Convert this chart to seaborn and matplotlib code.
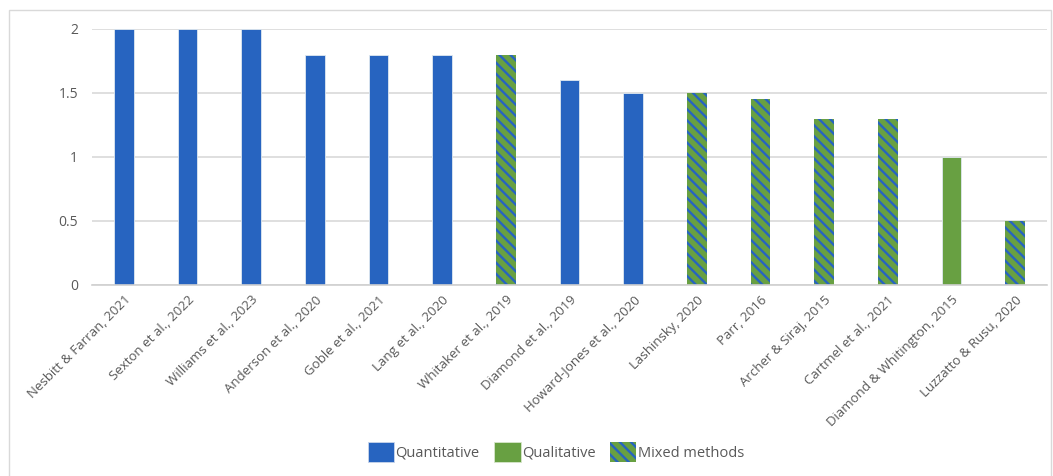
import matplotlib
matplotlib.use("Agg")
import matplotlib.pyplot as plt
import seaborn as sns
import pandas as pd
from matplotlib.patches import Patch, Rectangle

studies = ["Nesbitt & Farran, 2021", "Sexton et al., 2022", "Williams et al., 2023",
           "Anderson et al., 2020", "Goble et al., 2021", "Lang et al., 2020",
           "Whitaker et al., 2019", "Diamond et al., 2019", "Howard-Jones et al., 2020",
           "Lashinsky, 2020", "Parr, 2016", "Archer & Siraj, 2015", "Cartmel et al., 2021",
           "Diamond & Whitington, 2015", "Luzzatto & Rusu, 2020"]
scores = [2, 2, 2, 1.8, 1.8, 1.8, 1.8, 1.6, 1.5, 1.5, 1.45, 1.3, 1.3, 1.0, 0.5]
methods = ["Quantitative"] * 6 + ["Mixed methods", "Quantitative", "Quantitative",
           "Mixed methods", "Mixed methods", "Mixed methods", "Mixed methods",
           "Qualitative", "Mixed methods"]
method_order = ["Quantitative", "Qualitative", "Mixed methods"]
yticks = [0, 0.5, 1, 1.5, 2]
ytick_labels = ["0", "0.5", "1", "1.5", "2"]

BLUE = "#2764C0"
GREEN = "#68A042"
GREY = "#595959"
HATCH = "\\\\\\"

df = pd.DataFrame({"study": studies, "score": scores, "method": methods})

sns.set_style("white")
plt.rcParams["font.family"] = ["Open Sans", "DejaVu Sans"]
plt.rcParams["hatch.linewidth"] = 1.7

fig = plt.figure(figsize=(10.53, 4.76), dpi=100)
ax = fig.add_axes([92 / 1053, 1 - 285 / 476, (1047 - 92) / 1053, (285 - 29) / 476])

palette = {"Quantitative": BLUE, "Qualitative": GREEN, "Mixed methods": GREEN}
sns.barplot(data=df, x="study", y="score", hue="method", hue_order=method_order,
            palette=palette, dodge=False, width=0.31, order=studies, ax=ax,
            legend=False, saturation=1)

for container, m in zip(ax.containers, method_order):
    for bar in container:
        if bar.get_height() == 0 or pd.isna(bar.get_height()):
            continue
        if m == "Mixed methods":
            bar.set_hatch(HATCH)
            bar.set_edgecolor(BLUE)
            bar.set_linewidth(0)
        else:
            bar.set_edgecolor("#dfe8f0")
            bar.set_linewidth(0.6)

ax.set_ylim(0, 2)
ax.set_xlim(-0.5, len(studies) - 0.5)
ax.set_yticks(yticks)
ax.set_yticklabels(ytick_labels, color=GREY, fontsize=10)
ax.yaxis.grid(True, color="#d9d9d9", linewidth=1.2)
ax.set_axisbelow(True)
for s in ["top", "right", "left"]:
    ax.spines[s].set_visible(False)
ax.spines["bottom"].set_color("#d0d0d0")
ax.spines["bottom"].set_linewidth(1.2)
ax.tick_params(axis="y", length=0, pad=10)
ax.tick_params(axis="x", length=0, pad=6)
ax.set_xticks(range(len(studies)))
ax.set_xticklabels(studies, rotation=45, ha="right", rotation_mode="anchor",
                   color=GREY, fontsize=9.5)
ax.set_xlabel("")
ax.set_ylabel("")

handles = [
    Patch(facecolor=BLUE, edgecolor="#c9d6ea", linewidth=0.6, label="Quantitative"),
    Patch(facecolor=GREEN, edgecolor="#d7e6cc", linewidth=0.6, label="Qualitative"),
    Patch(facecolor=GREEN, edgecolor=BLUE, hatch=HATCH, linewidth=0, label="Mixed methods"),
]
leg = fig.legend(handles=handles, loc="center", bbox_to_anchor=(0.528, 1 - 452 / 476),
                 ncol=3, frameon=False, fontsize=10.5, handlelength=1.8, handleheight=1.8,
                 handletextpad=0.1, columnspacing=1.0)
for t in leg.get_texts():
    t.set_color(GREY)

fig.patches.append(Rectangle((9 / 1053, -0.05), (1051 - 9) / 1053, 1.05 - 10 / 476,
                             transform=fig.transFigure, fill=False,
                             edgecolor="#d9d9d9", linewidth=1.0))

fig.savefig("out.png", dpi=100)
